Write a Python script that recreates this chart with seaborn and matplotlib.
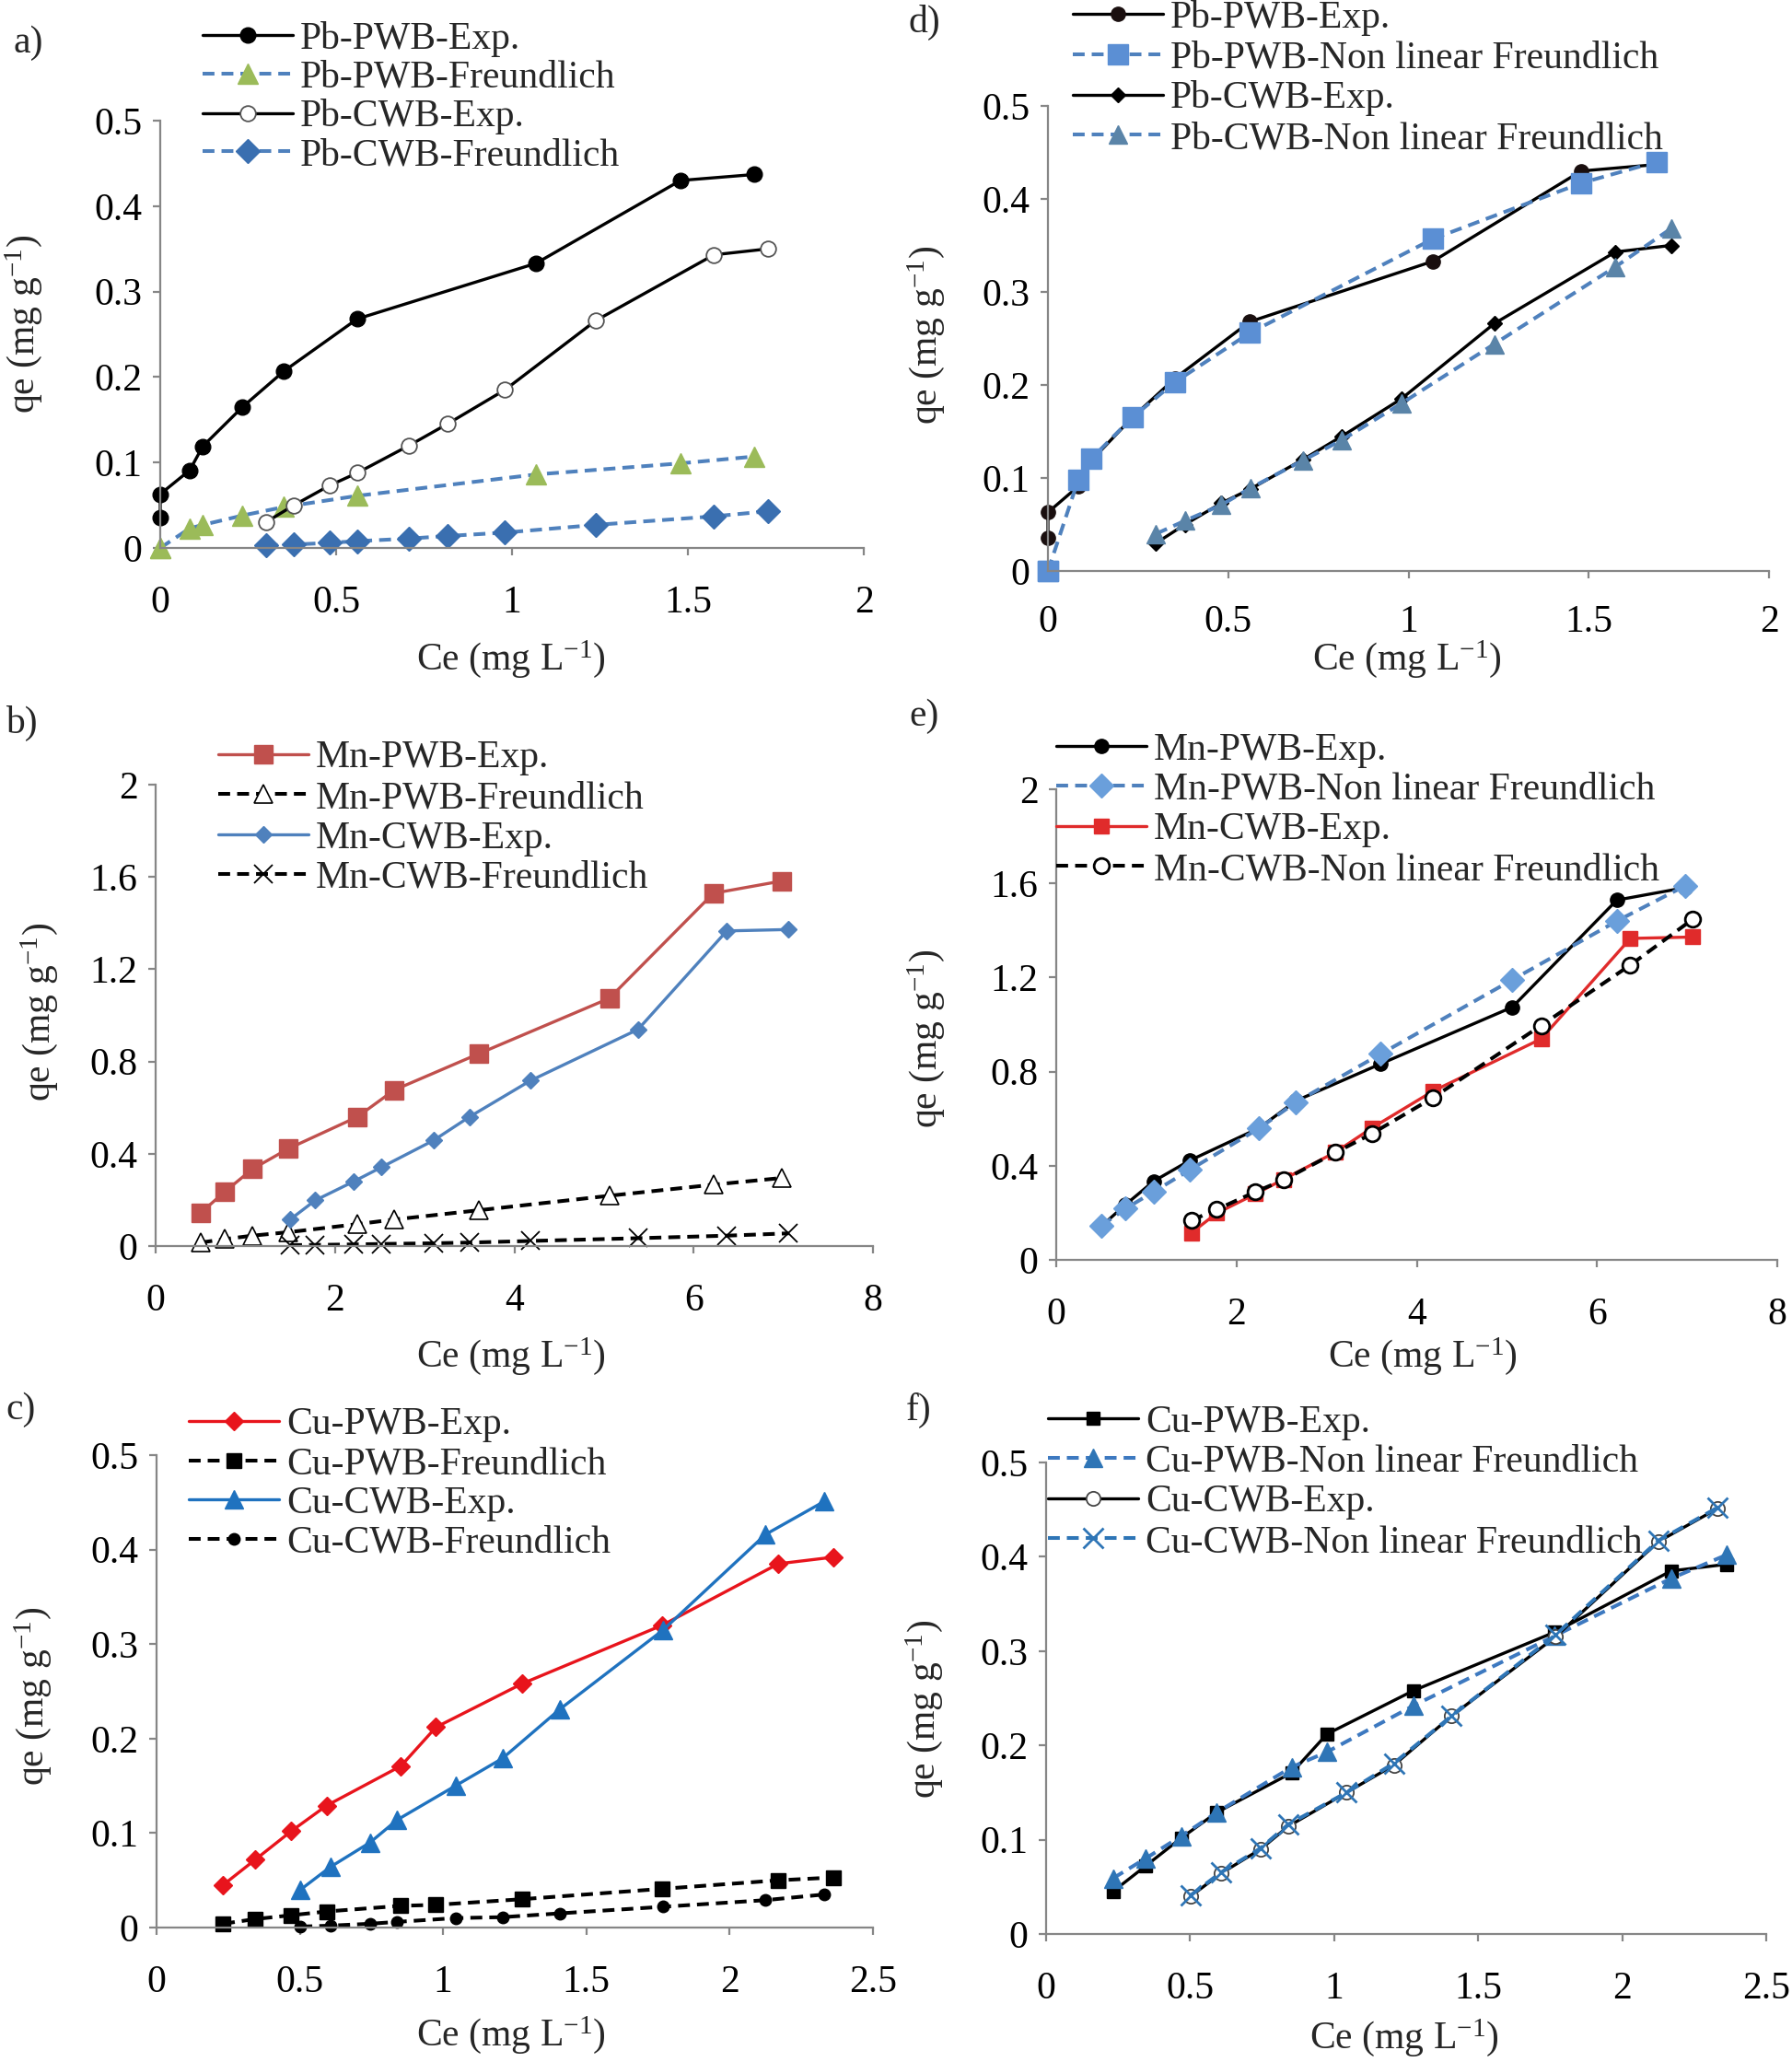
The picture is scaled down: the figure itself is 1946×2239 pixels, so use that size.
import matplotlib
matplotlib.use('Agg')
import matplotlib.pyplot as plt
import seaborn as sns

# ######################################################## data

# Pb - panels a) and d)
pb_pwb_ce = [0.0, 0.0, 0.084, 0.121, 0.234, 0.352, 0.560, 1.068, 1.479, 1.689]
pb_pwb_exp = [0.036, 0.063, 0.091, 0.119, 0.165, 0.207, 0.268, 0.333, 0.430, 0.437]
pb_pwb_freund = [0.0, 0.0, 0.023, 0.027, 0.038, 0.048, 0.061, 0.086, 0.099, 0.107]
pb_pwb_nonlin = [0.0, 0.0, 0.098, 0.121, 0.165, 0.203, 0.256, 0.357, 0.417, 0.440]
pb_cwb_ce = [0.300, 0.380, 0.481, 0.561, 0.708, 0.816, 0.980, 1.238, 1.574, 1.728]
pb_cwb_exp = [0.030, 0.050, 0.073, 0.088, 0.120, 0.145, 0.185, 0.266, 0.343, 0.350]
pb_cwb_freund = [0.003, 0.004, 0.006, 0.008, 0.011, 0.014, 0.018, 0.027, 0.037, 0.043]
pb_cwb_nonlin = [0.040, 0.054, 0.071, 0.089, 0.119, 0.141, 0.180, 0.244, 0.327, 0.368]

# Mn - panels b) and e)
mn_pwb_ce = [0.50, 0.77, 1.08, 1.48, 2.25, 2.66, 3.60, 5.06, 6.22, 6.98]
mn_pwb_exp = [0.143, 0.235, 0.334, 0.422, 0.560, 0.676, 0.833, 1.074, 1.529, 1.582]
mn_pwb_freund = [0.015, 0.030, 0.045, 0.060, 0.095, 0.115, 0.155, 0.218, 0.266, 0.295]
mn_pwb_nonlin = [0.145, 0.218, 0.289, 0.382, 0.559, 0.670, 0.875, 1.190, 1.440, 1.590]
mn_cwb_ce = [1.50, 1.78, 2.21, 2.52, 3.10, 3.50, 4.18, 5.38, 6.37, 7.06]
mn_cwb_exp = [0.115, 0.198, 0.280, 0.342, 0.458, 0.560, 0.717, 0.939, 1.366, 1.372]
mn_cwb_freund = [0.004, 0.005, 0.007, 0.009, 0.012, 0.015, 0.022, 0.034, 0.045, 0.055]
mn_cwb_nonlin = [0.168, 0.214, 0.289, 0.339, 0.456, 0.536, 0.689, 0.996, 1.253, 1.447]

# Cu - panels c) and f)
cu_pwb_ce = [0.232, 0.345, 0.470, 0.593, 0.853, 0.975, 1.275, 1.765, 2.170, 2.362]
cu_pwb_exp = [0.045, 0.072, 0.102, 0.129, 0.171, 0.212, 0.258, 0.320, 0.385, 0.392]
cu_pwb_freund = [0.004, 0.009, 0.013, 0.017, 0.023, 0.024, 0.030, 0.041, 0.050, 0.053]
cu_pwb_nonlin = [0.059, 0.080, 0.104, 0.129, 0.177, 0.193, 0.242, 0.316, 0.377, 0.402]
cu_cwb_ce = [0.502, 0.606, 0.745, 0.840, 1.043, 1.207, 1.407, 1.768, 2.125, 2.330]
cu_cwb_exp = [0.040, 0.064, 0.090, 0.114, 0.150, 0.179, 0.231, 0.315, 0.416, 0.451]
cu_cwb_freund = [0.001, 0.002, 0.004, 0.006, 0.010, 0.011, 0.015, 0.022, 0.029, 0.035]
cu_cwb_nonlin = [0.041, 0.065, 0.091, 0.116, 0.150, 0.181, 0.231, 0.317, 0.417, 0.452]

# ticks
ticks_pb_x = [0, 0.5, 1, 1.5, 2]
ticks_pb_y = [0, 0.1, 0.2, 0.3, 0.4, 0.5]
ticks_mn_x = [0, 2, 4, 6, 8]
ticks_mn_y = [0, 0.4, 0.8, 1.2, 1.6, 2]
ticks_cu_x = [0, 0.5, 1, 1.5, 2, 2.5]
ticks_cu_y = [0, 0.1, 0.2, 0.3, 0.4, 0.5]

# ######################################################## style

W, H = 1946, 2239
FS = 30
DASH = (0, (3.2, 1.9))
BLUE = '#4F81BD'

sns.set_theme(style='ticks')
plt.rcParams['font.family'] = ['Liberation Serif', 'DejaVu Serif']
plt.rcParams['mathtext.fontset'] = 'custom'
plt.rcParams['mathtext.rm'] = 'Liberation Serif'
plt.rcParams['mathtext.default'] = 'rm'


def fx(px):
    return px / W


def fy(py):
    return 1 - py / H


def draw_series(ax, x, y, label, lc, marker, ms, mfc=None, mec=None, mew=1.0, ls='-'):
    sns.lineplot(
        x=x, y=y, ax=ax, estimator=None, sort=False, label=label,
        color=lc, linestyle=ls, linewidth=2.4 if ls == '-' else 2.9,
        marker=marker, markersize=ms,
        markerfacecolor=mfc if mfc else lc,
        markeredgecolor=mec if mec else (mfc if mfc else lc),
        markeredgewidth=mew, clip_on=False
    )


def style_axes(ax, xticks, yticks, xlim, ylim, xpad=23):
    ax.set_xlim(xlim)
    ax.set_ylim(ylim)
    ax.set_xticks(xticks, [f'{t:g}' for t in xticks])
    ax.set_yticks(yticks, [f'{t:g}' for t in yticks])
    for side in ['top', 'right']:
        ax.spines[side].set_visible(False)
    for side in ['left', 'bottom']:
        ax.spines[side].set_color('#868686')
        ax.spines[side].set_linewidth(1.6)
    ax.tick_params(axis='both', direction='out', length=6, width=1.6,
                   color='#868686', labelsize=FS, labelcolor='black')
    ax.tick_params(axis='x', pad=xpad)
    ax.tick_params(axis='y', pad=8)
    ax.grid(False)


def finish_panel(fig, ax, letter, letter_xy, xlab_xy, ylab_xy, leg_xy, leg_space):
    ax.set_xlabel('Ce (mg L$^{-1}$)', fontsize=FS)
    ax.set_ylabel('qe (mg g$^{-1}$)', fontsize=FS)
    ax.xaxis.set_label_coords(fx(xlab_xy[0]), fy(xlab_xy[1]), transform=fig.transFigure)
    ax.yaxis.set_label_coords(fx(ylab_xy[0]), fy(ylab_xy[1]), transform=fig.transFigure)
    ax.xaxis.label.set_va('center')
    ax.yaxis.label.set_va('center')
    fig.text(fx(letter_xy[0]), fy(letter_xy[1]), letter, fontsize=FS,
             ha='left', va='center')
    ax.legend(loc='upper left', bbox_to_anchor=(fx(leg_xy[0]), fy(leg_xy[1] - 19)),
              bbox_transform=fig.transFigure, frameon=False, fontsize=FS,
              borderpad=0, borderaxespad=0, handlelength=2.35, handletextpad=0.2,
              labelspacing=leg_space)


fig = plt.figure(figsize=(W / 100, H / 100), dpi=100)

# ######################################################## a) Pb linear Freundlich
ax = fig.add_axes([fx(174), fy(595), fx(938 - 174), (595 - 131) / H])
draw_series(ax, pb_pwb_ce, pb_pwb_exp, 'Pb-PWB-Exp.', 'black', 'o', 12)
draw_series(ax, pb_pwb_ce, pb_pwb_freund, 'Pb-PWB-Freundlich', BLUE, '^', 16,
            mfc='#9BBB59', ls=DASH)
draw_series(ax, pb_cwb_ce, pb_cwb_exp, 'Pb-CWB-Exp.', 'black', 'o', 12,
            mfc='white', mec='#555555', mew=1.3)
draw_series(ax, pb_cwb_ce, pb_cwb_freund, 'Pb-CWB-Freundlich', BLUE, 'D', 13,
            mfc='#3A6FB0', ls=DASH)
style_axes(ax, ticks_pb_x, ticks_pb_y, (0, 2), (0, 0.5))
finish_panel(fig, ax, 'a)', (15, 47), (555, 716), (26, 352), (220, 42), 0.08)

# ######################################################## d) Pb non linear Freundlich
ax = fig.add_axes([fx(1138), fy(620), fx(1921 - 1138), (620 - 115) / H])
draw_series(ax, pb_pwb_ce, pb_pwb_exp, 'Pb-PWB-Exp.', 'black', 'o', 11, mfc='#1a0f0f')
draw_series(ax, pb_pwb_ce, pb_pwb_nonlin, 'Pb-PWB-Non linear Freundlich', BLUE, 's', 16,
            mfc='#5B8FD4', ls=DASH)
draw_series(ax, pb_cwb_ce, pb_cwb_exp, 'Pb-CWB-Exp.', 'black', 'D', 8)
draw_series(ax, pb_cwb_ce, pb_cwb_nonlin, 'Pb-CWB-Non linear Freundlich', BLUE, '^', 15,
            mfc='#5A84A8', ls=DASH)
style_axes(ax, ticks_pb_x, ticks_pb_y, (0, 2), (0, 0.5), xpad=20)
finish_panel(fig, ax, 'd)', (987, 24), (1528, 716), (1006, 364), (1165, 19), 0.12)

# ######################################################## b) Mn linear Freundlich
ax = fig.add_axes([fx(169), fy(1353), fx(948 - 169), (1353 - 852) / H])
draw_series(ax, mn_pwb_ce, mn_pwb_exp, 'Mn-PWB-Exp.', '#C0504D', 's', 14)
draw_series(ax, mn_pwb_ce, mn_pwb_freund, 'Mn-PWB-Freundlich', 'black', '^', 15,
            mfc='white', mec='black', mew=1.2, ls=DASH)
draw_series(ax, mn_cwb_ce, mn_cwb_exp, 'Mn-CWB-Exp.', BLUE, 'D', 9)
draw_series(ax, mn_cwb_ce, mn_cwb_freund, 'Mn-CWB-Freundlich', 'black', 'x', 15,
            mec='black', mew=1.3, ls=DASH)
style_axes(ax, ticks_mn_x, ticks_mn_y, (0, 8), (0, 2))
finish_panel(fig, ax, 'b)', (6, 785), (555, 1473), (43, 1099), (237, 823), 0.12)

# ######################################################## e) Mn non linear Freundlich
ax = fig.add_axes([fx(1147), fy(1368), fx(1930 - 1147), (1368 - 857) / H])
draw_series(ax, mn_pwb_ce, mn_pwb_exp, 'Mn-PWB-Exp.', 'black', 'o', 11)
draw_series(ax, mn_pwb_ce, mn_pwb_nonlin, 'Mn-PWB-Non linear Freundlich', BLUE, 'D', 13,
            mfc='#6A9FDB', ls=DASH)
draw_series(ax, mn_cwb_ce, mn_cwb_exp, 'Mn-CWB-Exp.', '#E02B2B', 's', 12)
draw_series(ax, mn_cwb_ce, mn_cwb_nonlin, 'Mn-CWB-Non linear Freundlich', 'black', 'o', 12,
            mfc='white', mec='black', mew=2, ls=DASH)
style_axes(ax, ticks_mn_x, ticks_mn_y, (0, 8), (0, 2))
finish_panel(fig, ax, 'e)', (987, 778), (1545, 1473), (1006, 1128), (1147, 814), 0.12)

# ######################################################## c) Cu linear Freundlich
ax = fig.add_axes([fx(170), fy(2093), fx(948 - 170), (2093 - 1580) / H])
draw_series(ax, cu_pwb_ce, cu_pwb_exp, 'Cu-PWB-Exp.', '#E8141C', 'D', 10)
draw_series(ax, cu_pwb_ce, cu_pwb_freund, 'Cu-PWB-Freundlich', 'black', 's', 11, ls=DASH)
draw_series(ax, cu_cwb_ce, cu_cwb_exp, 'Cu-CWB-Exp.', '#1F72BF', '^', 14)
draw_series(ax, cu_cwb_ce, cu_cwb_freund, 'Cu-CWB-Freundlich', 'black', 'o', 9, ls=DASH)
style_axes(ax, ticks_cu_x, ticks_cu_y, (0, 2.5), (0, 0.5))
finish_panel(fig, ax, 'c)', (6, 1531), (555, 2210), (36, 1842), (205, 1547), 0.1)

# ######################################################## f) Cu non linear Freundlich
ax = fig.add_axes([fx(1136), fy(2100), fx(1918 - 1136), (2100 - 1588) / H])
draw_series(ax, cu_pwb_ce, cu_pwb_exp, 'Cu-PWB-Exp.', 'black', 's', 10)
draw_series(ax, cu_pwb_ce, cu_pwb_nonlin, 'Cu-PWB-Non linear Freundlich', '#3D79C0', '^', 14,
            mfc='#2E75B6', ls=DASH)
draw_series(ax, cu_cwb_ce, cu_cwb_exp, 'Cu-CWB-Exp.', 'black', 'o', 11,
            mfc='white', mec='#444444', mew=1.3)
draw_series(ax, cu_cwb_ce, cu_cwb_nonlin, 'Cu-CWB-Non linear Freundlich', '#2E75B6', 'x', 16,
            mec='#2E75B6', mew=2, ls=DASH)
style_axes(ax, ticks_cu_x, ticks_cu_y, (0, 2.5), (0, 0.5))
finish_panel(fig, ax, 'f)', (984, 1531), (1525, 2213), (1004, 1856), (1138, 1544), 0.12)

fig.savefig('out.png', dpi=100)
plt.close(fig)
